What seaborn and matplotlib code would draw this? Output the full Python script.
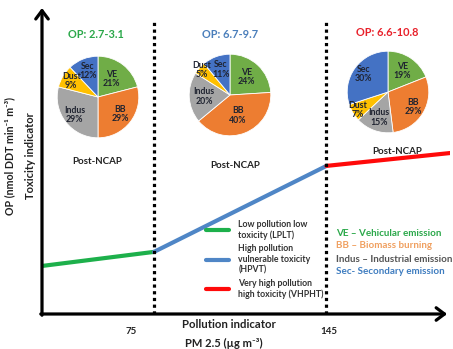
import numpy as np
import pandas as pd
import matplotlib
matplotlib.use("Agg")
import matplotlib.pyplot as plt
import seaborn as sns
from matplotlib.lines import Line2D

sns.set_style("white")
plt.rcParams['font.family'] = ['Lato', 'DejaVu Sans']
plt.rcParams['font.weight'] = 'bold'

# ---------------- data ----------------
sources = ["VE", "BB", "Indus", "Dust", "Sec"]
source_colors = ["#70AD47", "#ED7D31", "#A5A5A5", "#FFC000", "#4472C4"]
pie_lplt = [21, 29, 29, 9, 12]
pie_hpvt = [24, 40, 20, 5, 11]
pie_vhpht = [19, 29, 15, 7, 30]
op_ranges = ["OP: 2.7-3.1", "OP: 6.7-9.7", "OP: 6.6-10.8"]
op_colors = ["#2BA84A", "#4A7EBB", "#E8202A"]

segments = ["LPLT", "HPVT", "VHPHT"]
seg_colors = ["#1DB04B", "#4F86C6", "#FF0A0A"]
seg_labels = ["Low pollution low\ntoxicity (LPLT)",
              "High pollution\nvulnerable toxicity\n(HPVT)",
              "Very high pollution\nhigh toxicity (VHPHT)"]
pm_start = [0.0, 1.0, 2.54]          # schematic PM position
pm_end = [1.0, 2.54, 3.643]
op_start = [15.7, 20.3, 48.4]        # schematic OP level
op_end = [20.3, 48.4, 52.6]
threshold_pos = [1.0, 2.54]
tick_pos = [0.80, 2.56]
tick_labels = ["75", "145"]

source_legend = ["VE – Vehicular emission", "BB – Biomass burning",
                 "Indus – Industrial emission", "Sec- Secondary emission"]
source_legend_colors = ["#2BA84A", "#F0A060", "#555555", "#3F7DC0"]

# ---------------- figure ----------------
W, H = 453, 349
fig = plt.figure(figsize=(W / 100, H / 100), dpi=100)
fig.patch.set_facecolor("white")

ax = fig.add_axes([42 / W, (H - 314) / H, 408 / W, 306 / H])
rows = []
for s, x0, x1, y0, y1 in zip(segments, pm_start, pm_end, op_start, op_end):
    rows.append({"seg": s, "pm": x0, "op": y0})
    rows.append({"seg": s, "pm": x1, "op": y1})
df = pd.DataFrame(rows)
sns.lineplot(data=df, x="pm", y="op", hue="seg", palette=dict(zip(segments, seg_colors)),
             linewidth=3, legend=False, ax=ax, estimator=None, sort=False)
ax.set_xlim(0, 3.643)
ax.set_ylim(0, 100)
for sp in ax.spines.values():
    sp.set_visible(False)
ax.set_xlabel("")
ax.set_ylabel("")
ax.set_yticks([])
ax.set_xticks(tick_pos)
ax.set_xticklabels(tick_labels, fontsize=7, fontweight="bold", color="#222222")
ax.tick_params(axis="x", length=0, pad=9)
ax.set_facecolor("none")

ax.vlines(threshold_pos, 0, 95.4, colors="black", linewidth=2.3,
          linestyles=(0, (1, 1.1)))

arrow = dict(arrowstyle="->,head_length=0.6,head_width=0.45", lw=2.3, color="black",
             shrinkA=0, shrinkB=0)
ax.annotate("", xy=(0, 1.0), xytext=(0, -0.004), xycoords="axes fraction", arrowprops=arrow)
ax.annotate("", xy=(0.993, 0), xytext=(-0.003, 0), xycoords="axes fraction", arrowprops=arrow)

# legend for segments
handles = [Line2D([0], [0], color=c, lw=3) for c in seg_colors]
fig.legend(handles, seg_labels, loc="upper left", bbox_to_anchor=(206 / W, 1 - 220 / H),
           frameon=False, fontsize=6.3, handlelength=2.6, handletextpad=1.1,
           labelspacing=0.5, borderpad=0, borderaxespad=0,
           labelcolor="#333333")

# source legend text
for i, (t, c) in enumerate(zip(source_legend, source_legend_colors)):
    fig.text(336 / W, 1 - (233 + 13 * i) / H, t, color=c, fontsize=7.1,
             fontweight="bold", ha="left", va="center")

# pies
pie_data = [pie_lplt, pie_hpvt, pie_vhpht]
centers = [(98, 97), (230, 95), (388, 92)]
title_pos = [(96, 35), (230, 35), (387, 33)]
post_pos = [(97, 162), (235, 166), (397, 152)]
label_dist = [[0.55, 0.68, 0.72, 0.76, 0.68],
              [0.60, 0.54, 0.64, 0.93, 0.66],
              [0.62, 0.72, 0.66, 0.86, 0.74]]
r = 51
for vals, (cx, cy), tp, pp, ttl, tc, lds in zip(pie_data, centers, title_pos, post_pos,
                                                op_ranges, op_colors, label_dist):
    pax = fig.add_axes([(cx - r) / W, 1 - (cy + r) / H, 2 * r / W, 2 * r / H])
    labels = [f"{s}\n{v}%" for s, v in zip(sources, vals)]
    wedges, texts = pax.pie(vals, colors=source_colors, startangle=90, counterclock=False,
                            labels=labels, labeldistance=0.64,
                            textprops=dict(ha="center", va="center", fontsize=6.3,
                                           fontweight="bold", color="#1f2330",
                                           multialignment="center", linespacing=1.05),
                            wedgeprops=dict(edgecolor="white", linewidth=0.6))
    for w, t, d in zip(wedges, texts, lds):
        ang = np.deg2rad((w.theta1 + w.theta2) / 2)
        t.set_position((d * np.cos(ang), d * np.sin(ang)))
    pax.set_aspect("equal")
    fig.text(tp[0] / W, 1 - tp[1] / H, ttl, color=tc, fontsize=7.9, fontweight="bold",
             ha="center", va="center")
    fig.text(pp[0] / W, 1 - pp[1] / H, "Post-NCAP", color="#222222", fontsize=7,
             fontweight="bold", ha="center", va="center")

# axis titles
fig.text(10 / W, 1 - 156 / H, "OP (nmol DDT min⁻¹ m⁻³)", rotation=90, fontsize=7.7,
         fontweight="bold", ha="center", va="center", color="#222222")
fig.text(30 / W, 1 - 156 / H, "Toxicity indicator", rotation=90, fontsize=8,
         fontweight="bold", ha="center", va="center", color="#222222")
fig.text(229 / W, 1 - 325 / H, "Pollution indicator", fontsize=8.2,
         fontweight="bold", ha="center", va="center", color="#222222")
fig.text(224 / W, 1 - 343 / H, "PM 2.5 (µg m⁻³)", fontsize=8,
         fontweight="bold", ha="center", va="center", color="#222222")

fig.savefig("out.png", dpi=100)
